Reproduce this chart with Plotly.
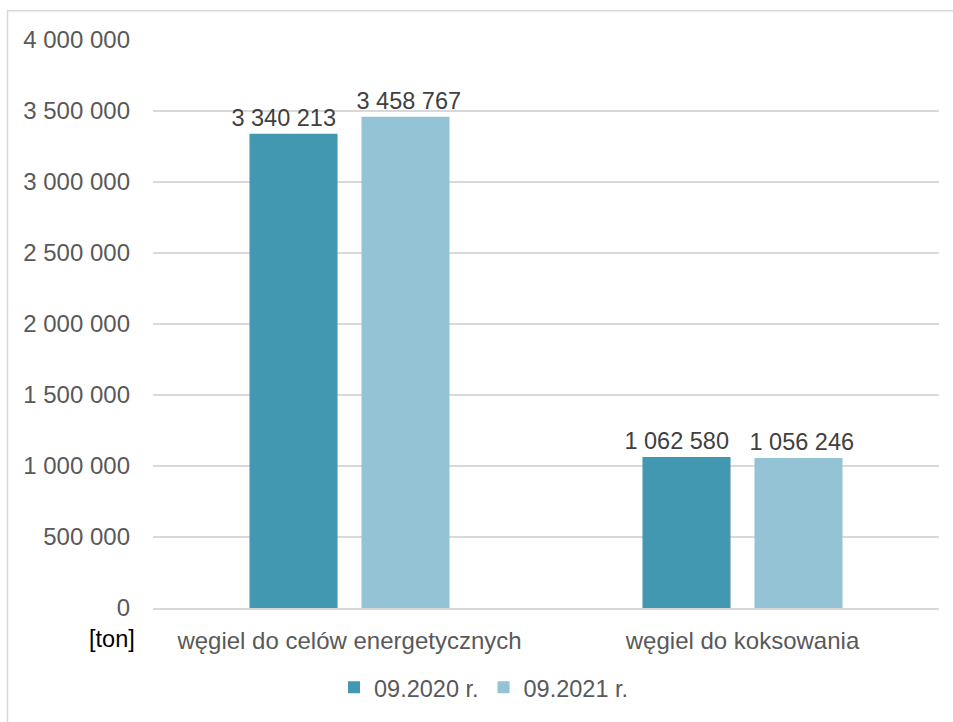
import plotly.graph_objects as go

categories = ["węgiel do celów energetycznych", "węgiel do koksowania"]
series_names = ["09.2020 r.", "09.2021 r."]
values_2020 = [3340213, 1062580]
values_2021 = [3458767, 1056246]
colors = ["#4298B0", "#93C3D5"]
tick_vals = [0, 500000, 1000000, 1500000, 2000000, 2500000, 3000000, 3500000, 4000000]

FONT = "Liberation Sans, Arial, sans-serif"
FS = 24
LFS = 23.5
NB = "\u00a0"

# label templates: the 2020 labels sit slightly left of their bar, the 2021 ones slightly right
label_templates = ["%{y:,d}" + NB * 3, NB + "%{y:,d}"]

fig = go.Figure()
for name, vals, col, tt in zip(series_names, [values_2020, values_2021], colors, label_templates):
    fig.add_trace(go.Bar(
        x=categories, y=vals, name=name, marker=dict(color=col, line=dict(width=0)),
        texttemplate=tt, textposition="outside", cliponaxis=False, constraintext="none",
        textfont=dict(family=FONT, size=LFS, color="#404040"),
    ))

W, H = 953, 722
L, R, T, B = 153, 14, 40, 111
pw, ph = W - L - R, H - T - B

def px_x(x):
    return (x - L) / pw

def px_y(y):
    return (H - B - y) / ph

fig.update_layout(
    width=W, height=H,
    margin=dict(l=L, r=R, t=T, b=B),
    paper_bgcolor="white", plot_bgcolor="white",
    separators=", ",
    barmode="group", bargap=0.43, bargroupgap=0.214,
    font=dict(family=FONT, size=FS, color="#595959"),
    showlegend=True,
    legend=dict(orientation="h", x=px_x(484), xanchor="center", y=px_y(691), yanchor="middle",
                font=dict(family=FONT, size=LFS, color="#595959"), itemwidth=30),
    xaxis=dict(showgrid=False, showline=True, linecolor="#D9D9D9", linewidth=1.5,
               ticks="", ticklabelstandoff=10, tickfont=dict(family=FONT, size=FS, color="#595959")),
    yaxis=dict(range=[0, 4000000], tickvals=tick_vals, tickformat=",d",
               showgrid=True, gridcolor="#D9D9D9", gridwidth=1.5, zeroline=False,
               showline=False, ticks="", ticklabelstandoff=22,
               tickfont=dict(family=FONT, size=FS, color="#595959")),
    shapes=[
        dict(type="line", xref="paper", yref="paper", x0=px_x(7), x1=px_x(1000), y0=px_y(10.5), y1=px_y(10.5),
             line=dict(color="#D9D9D9", width=1.5)),
        dict(type="line", xref="paper", yref="paper", x0=px_x(7.5), x1=px_x(7.5), y0=px_y(10.5), y1=px_y(800),
             line=dict(color="#D9D9D9", width=1.5)),
    ],
    annotations=[
        dict(text="[ton]", xref="paper", yref="paper", x=px_x(112), y=px_y(642), xanchor="center", yanchor="middle",
             showarrow=False, font=dict(family=FONT, size=LFS, color="#000000")),
    ],
)

# remove the default page margin so the figure fills the window exactly
fig.write_html("out.html", config={"displayModeBar": False},
               post_script="document.body.style.margin='0';document.body.style.overflow='hidden';")
